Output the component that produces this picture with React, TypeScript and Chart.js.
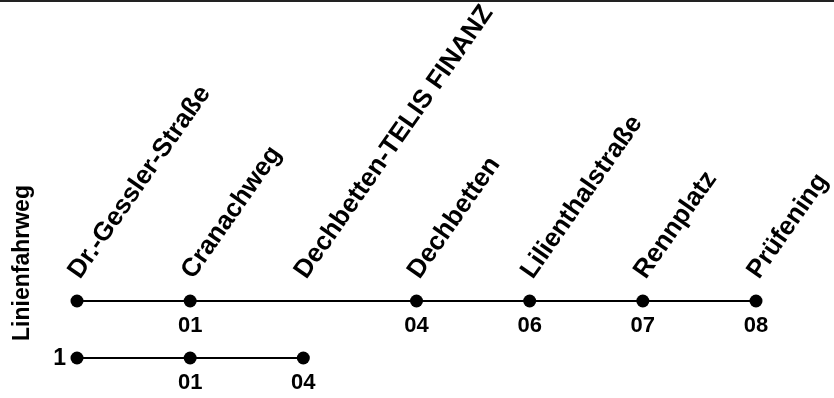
import React, { useEffect, useRef } from "react";
import { Chart, registerables } from "chart.js";

Chart.register(...registerables);

// Stops along the x axis (index = position)
const stops = [
  "Dr.-Gessler-Straße",
  "Cranachweg",
  "Dechbetten-TELIS FINANZ",
  "Dechbetten",
  "Lilienthalstraße",
  "Rennplatz",
  "Prüfening",
];

// Route rows
const routeNames = ["", "1"];
const axisTitle = "Linienfahrweg";

// Route 0 (upper line)
const route0Stops = [0, 1, 3, 4, 5, 6];
const route0Codes = ["", "01", "04", "06", "07", "08"];

// Route 1 (lower line)
const route1Stops = [0, 1, 2];
const route1Codes = ["", "01", "04"];

const routesStops = [route0Stops, route1Stops];
const routesCodes = [route0Codes, route1Codes];

const FONT = "'Liberation Sans', Arial, sans-serif";

export default function App() {
  const ref = useRef<HTMLCanvasElement | null>(null);

  useEffect(() => {
    if (!ref.current) return;
    const datasets = routesStops.map((s, r) => ({
      label: routeNames[r] || "route",
      data: s.map((x) => ({ x, y: r })),
      showLine: true,
      borderColor: "#000",
      backgroundColor: "#000",
      borderWidth: 2,
      pointRadius: 6.5,
      pointHoverRadius: 6.5,
      pointBackgroundColor: "#000",
      pointBorderWidth: 0,
      clip: false as any,
    }));

    const labelsPlugin = {
      id: "routeLabels",
      beforeDraw(chart: any) {
        const ctx = chart.ctx;
        ctx.save();
        ctx.fillStyle = "#222";
        ctx.fillRect(0, 0, chart.width, 2);
        ctx.restore();
      },
      afterDatasetsDraw(chart: any) {
        const ctx = chart.ctx;
        const xs = chart.scales.x;
        const ys = chart.scales.y;
        ctx.save();
        ctx.fillStyle = "#000";
        // stop names (rotated) above the upper line
        const yTop = ys.getPixelForValue(0);
        ctx.font = `bold 26px ${FONT}`;
        stops.forEach((name, i) => {
          const px = xs.getPixelForValue(i);
          ctx.save();
          ctx.translate(px + 3, yTop - 21);
          ctx.rotate((-55 * Math.PI) / 180);
          ctx.textAlign = "left";
          ctx.textBaseline = "alphabetic";
          ctx.fillText(name, 0, 0);
          ctx.restore();
        });
        // stop codes under points
        ctx.font = `bold 22px ${FONT}`;
        ctx.textAlign = "center";
        ctx.textBaseline = "middle";
        routesStops.forEach((s, r) => {
          const py = ys.getPixelForValue(r);
          s.forEach((x, k) => {
            const code = routesCodes[r][k];
            if (code) ctx.fillText(code, xs.getPixelForValue(x), py + 25);
          });
        });
        // route names left of the first point
        ctx.font = `bold 23px ${FONT}`;
        ctx.textAlign = "right";
        routeNames.forEach((n, r) => {
          if (!n) return;
          const py = ys.getPixelForValue(r);
          ctx.fillText(n, xs.getPixelForValue(routesStops[r][0]) - 11, py + 1);
        });
        // axis title
        ctx.save();
        ctx.font = `bold 23px ${FONT}`;
        ctx.translate(23, 263);
        ctx.rotate(-Math.PI / 2);
        ctx.textAlign = "center";
        ctx.textBaseline = "middle";
        ctx.fillText(axisTitle, 0, 0);
        ctx.restore();
        ctx.restore();
      },
    };

    const chart = new Chart(ref.current, {
      type: "scatter",
      data: { datasets: datasets as any },
      options: {
        animation: false,
        responsive: true,
        maintainAspectRatio: false,
        layout: { padding: { left: 77, right: 78, top: 301, bottom: 40 } },
        plugins: { legend: { display: false }, tooltip: { enabled: false } },
        scales: {
          x: { type: "linear", min: 0, max: stops.length - 1, display: false },
          y: { type: "linear", min: 0, max: 1, reverse: true, display: false },
        },
      },
      plugins: [labelsPlugin],
    });
    return () => chart.destroy();
  }, []);

  return (
    <div style={{ position: "fixed", left: 0, top: 0, width: 834, height: 398, background: "#fff" }}>
      <canvas ref={ref} />
    </div>
  );
}
